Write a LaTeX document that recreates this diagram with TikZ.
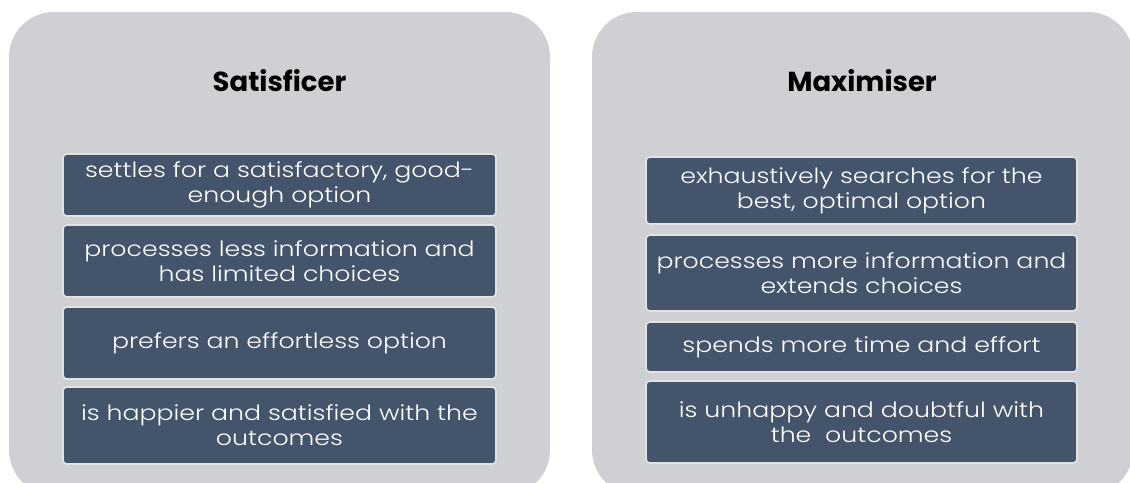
\documentclass[tikz,border=0pt]{standalone}
\usepackage{fontspec}
\setmainfont{Poppins}
\newfontfamily\bodyfont{Poppins Light}[FakeStretch=1.2]
\definecolor{panelgray}{HTML}{CFD0D4}
\definecolor{boxfill}{HTML}{44546A}
\definecolor{boxline}{HTML}{E2E3E5}
\begin{document}
\begin{tikzpicture}[x=1pt,y=-1pt,
  panel/.style={fill=panelgray, rounded corners=45pt},
  title/.style={font=\fontsize{27.5}{32}\selectfont\bfseries, text=black, anchor=center},
  item/.style={draw=boxline, line width=1.6pt, fill=boxfill, rounded corners=4pt,
    minimum width=433pt, inner sep=0pt, align=center, text=white,
    font=\bodyfont\fontsize{21}{25}\selectfont}]
\useasboundingbox (0,0) rectangle (1130,482);
\clip (0,0) rectangle (1130,482);
\fill[white] (0,0) rectangle (1130,482);
% panels
\path[panel] (9,12) rectangle (550,495);
\path[panel] (592,12) rectangle (1133,495);
% titles
\node[title] (tS) at (279.5,81) {Satisficer};
\node[title] (tM) at (862,81) {Maximiser};
% left boxes
\node[item, minimum height=62pt] (s1) at (279.5,185) {settles for a satisfactory, good-\\enough option};
\node[item, minimum height=72pt] (s2) at (279.5,261) {processes less information and\\has limited choices};
\node[item, minimum height=72pt] (s3) at (279.5,343) {prefers an effortless option};
\node[item, minimum height=77pt] (s4) at (279.5,425.5) {is happier and satisfied with the\\outcomes};
% right boxes
\node[item, minimum height=67pt, minimum width=431pt] (m1) at (861.5,190.5) {exhaustively searches for the\\best, optimal option};
\node[item, minimum height=76pt, minimum width=431pt] (m2) at (861.5,273) {processes more information and\\extends choices};
\node[item, minimum height=50pt, minimum width=431pt] (m3) at (861.5,347) {spends more time and effort};
\node[item, minimum height=82pt, minimum width=431pt] (m4) at (861.5,422) {is unhappy and doubtful with\\the\ \ outcomes};
\end{tikzpicture}
\end{document}
